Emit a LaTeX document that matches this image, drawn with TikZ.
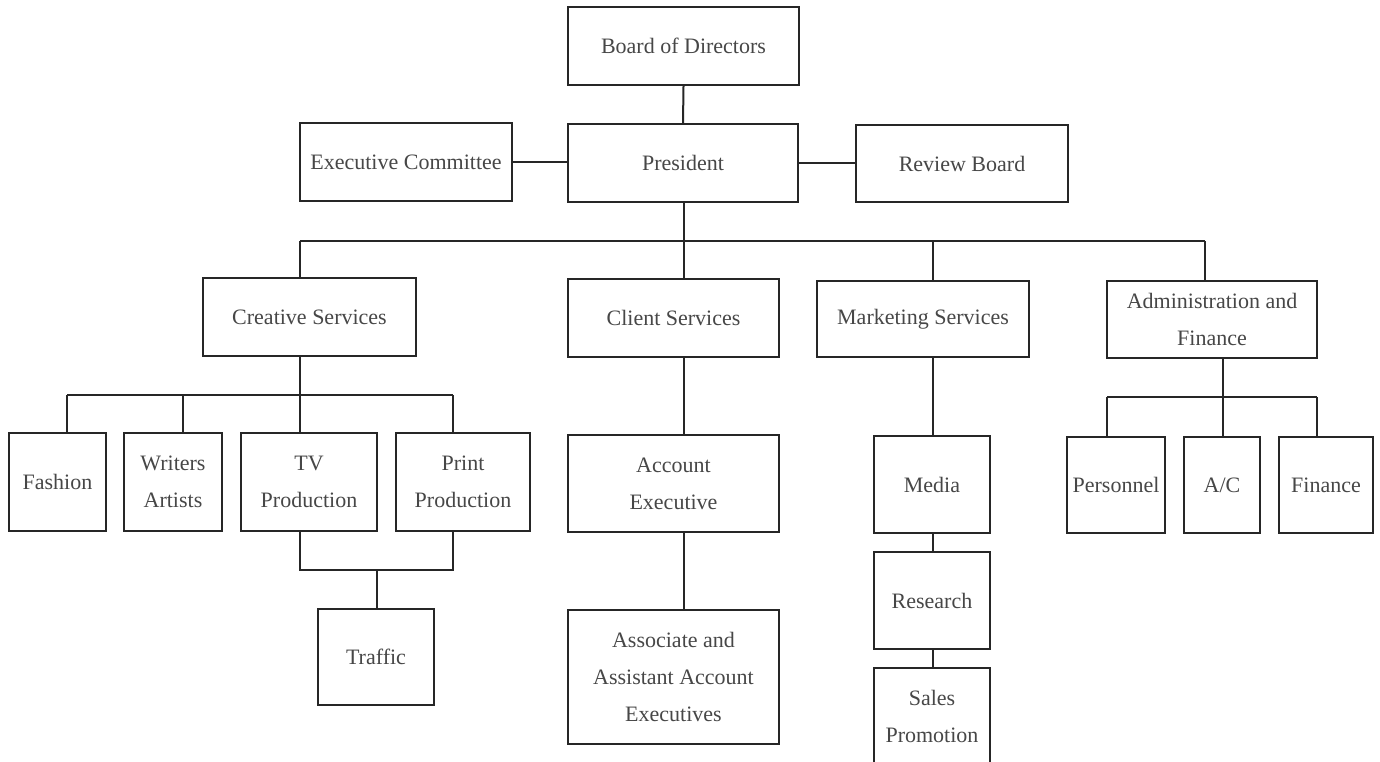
\documentclass[tikz,border=0pt]{standalone}
\usepackage{fontspec}
\setmainfont{Liberation Serif}
\tikzset{
  orgbox/.style={draw=black!85, line width=1pt, text=black!72, align=center,
    inner sep=0pt, font=\fontsize{11}{18.5}\selectfont},
  link/.style={draw=black!85, line width=1pt}
}
\newcommand\obox[6]{%
  \node[orgbox, minimum width={(#4-#2)*0.5pt}, minimum height={(#5-#3)*0.5pt}]
    (#1) at ({(#2+#4)/2},{(#3+#5)/2}) {#6};}
\begin{document}
\begin{tikzpicture}[x=0.5pt,y=-0.5pt]
\useasboundingbox (0,0) rectangle (1380,761);
\clip (0,0) rectangle (1380,761);
\fill[white] (0,0) rectangle (1380,761);
% boxes
\obox{board}{568}{7}{799}{85}{Board of Directors}
\obox{pres}{568}{124}{798}{202}{President}
\obox{exec}{300}{123}{512}{201}{Executive Committee}
\obox{review}{856}{125}{1068}{202}{Review Board}
\obox{creative}{203}{278}{416}{356}{Creative Services}
\obox{client}{568}{279}{779}{357}{Client Services}
\obox{marketing}{817}{281}{1029}{357}{Marketing Services}
\obox{admin}{1107}{281}{1317}{358}{Administration and\\Finance}
\obox{fashion}{9}{433}{106}{531}{Fashion}
\obox{writers}{124}{433}{222}{531}{Writers\\Artists}
\obox{tv}{241}{433}{377}{531}{TV\\Production}
\obox{print}{396}{433}{530}{531}{Print\\Production}
\obox{traffic}{318}{609}{434}{705}{Traffic}
\obox{acct}{568}{435}{779}{532}{Account\\Executive}
\obox{assoc}{568}{610}{779}{744}{Associate and\\Assistant Account\\Executives}
\obox{media}{874}{436}{990}{533}{Media}
\obox{research}{874}{552}{990}{649}{Research}
\obox{sales}{874}{668}{990}{764}{Sales\\Promotion}
\obox{personnel}{1067}{437}{1165}{533}{Personnel}
\obox{ac}{1184}{437}{1260}{533}{A/C}
\obox{finance}{1279}{437}{1373}{533}{Finance}
% junction coordinates
\coordinate (busL) at (300,241);
\coordinate (busC) at (684,241);
\coordinate (busM) at (933,241);
\coordinate (busR) at (1205,241);
\coordinate (cs) at (300,395);
\coordinate (cf) at (67,395);
\coordinate (cw) at (183,395);
\coordinate (cp) at (453,395);
\coordinate (tl) at (300,570);
\coordinate (tm) at (377,570);
\coordinate (tr) at (453,570);
\coordinate (aj) at (1223,397);
\coordinate (ap) at (1107,397);
\coordinate (af) at (1317,397);
% top
\draw[link] (board.south) -- (pres.north);
\draw[link] (exec.east) -- (exec.east -| pres.west);
\draw[link] (pres.east) -- (pres.east -| review.west);
\draw[link] (pres.south -| busC) -- (busC) -- (busC |- client.north);
\draw[link] (busL) -- (busR);
\draw[link] (busL) -- (busL |- creative.north);
\draw[link] (busM) -- (busM |- marketing.north);
\draw[link] (busR) -- (busR |- admin.north);
% creative
\draw[link] (creative.south -| cs) -- (cs);
\draw[link] (cf) -- (cp);
\draw[link] (cf) -- (cf |- fashion.north);
\draw[link] (cw) -- (cw |- writers.north);
\draw[link] (cs) -- (cs |- tv.north);
\draw[link] (cp) -- (cp |- print.north);
\draw[link] (tv.south -| tl) -- (tl) -- (tr) -- (print.south -| tr);
\draw[link] (tm) -- (tm |- traffic.north);
% client
\draw[link] (client.south -| busC) -- (acct.north -| busC);
\draw[link] (acct.south -| busC) -- (assoc.north -| busC);
% marketing
\draw[link] (marketing.south -| busM) -- (media.north -| busM);
\draw[link] (media.south -| busM) -- (research.north -| busM);
\draw[link] (research.south -| busM) -- (sales.north -| busM);
% admin
\draw[link] (admin.south -| aj) -- (aj);
\draw[link] (ap) -- (af);
\draw[link] (ap) -- (ap |- personnel.north);
\draw[link] (aj) -- (aj |- ac.north);
\draw[link] (af) -- (af |- finance.north);
\end{tikzpicture}
\end{document}
